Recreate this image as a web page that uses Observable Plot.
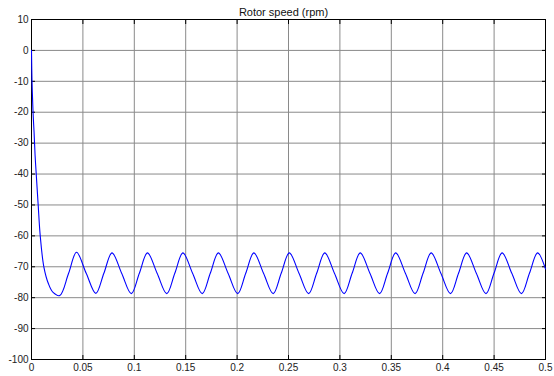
<!DOCTYPE html>
<html>
<head>
<meta charset="utf-8">
<script src="https://cdn.jsdelivr.net/npm/d3@7"></script>
<script src="https://cdn.jsdelivr.net/npm/@observablehq/plot@0.6"></script>
<style>
  html, body { margin: 0; padding: 0; background: #fff; }
  #chart svg { display: block; }
</style>
</head>
<body>
<div id="chart"></div>
<script>
const title = "Rotor speed (rpm)";
const xTicks = [0, 0.05, 0.1, 0.15, 0.2, 0.25, 0.3, 0.35, 0.4, 0.45, 0.5];
const yTicks = [10, 0, -10, -20, -30, -40, -50, -60, -70, -80, -90, -100];

// time (s)
const time = [
  0, 0.0005, 0.0015, 0.0025, 0.0035, 0.0046, 0.0065, 0.0085, 0.012, 0.0165, 0.021, 0.0275, 0.036,
  0.0438, 0.0532, 0.0626, 0.0704,
  0.0783, 0.0877, 0.0971, 0.1049,
  0.1128, 0.1222, 0.1316, 0.1394,
  0.1473, 0.1567, 0.1661, 0.1739,
  0.1818, 0.1912, 0.2006, 0.2084,
  0.2163, 0.2257, 0.2351, 0.2429,
  0.2508, 0.2602, 0.2696, 0.2774,
  0.2853, 0.2947, 0.3041, 0.3119,
  0.3198, 0.3292, 0.3386, 0.3464,
  0.3543, 0.3637, 0.3731, 0.3809,
  0.3888, 0.3982, 0.4076, 0.4154,
  0.4233, 0.4327, 0.4421, 0.4499,
  0.4578, 0.4672, 0.4766, 0.4844,
  0.4923, 0.5
];
// rotor speed (rpm)
const speed = [
  0, -10, -20, -26.5, -34, -40, -50, -60, -70, -75.5, -78.3, -79.3, -72.2,
  -65.3, -72.1, -78.6, -72.1,
  -65.5, -72.1, -78.7, -72.1,
  -65.5, -72.1, -78.7, -72.1,
  -65.5, -72.1, -78.7, -72.1,
  -65.5, -72.1, -78.7, -72.1,
  -65.5, -72.1, -78.7, -72.1,
  -65.5, -72.1, -78.7, -72.1,
  -65.5, -72.1, -78.7, -72.1,
  -65.5, -72.1, -78.7, -72.1,
  -65.5, -72.1, -78.7, -72.1,
  -65.5, -72.1, -78.7, -72.1,
  -65.5, -72.1, -78.7, -72.1,
  -65.5, -72.1, -78.7, -72.1,
  -65.5, -70.7
];

const data = time.map((t, i) => ({t, v: speed[i]}));
const fmt = d => String(d);

const chart = Plot.plot({
  width: 554,
  height: 376,
  marginLeft: 31,
  marginRight: 9,
  marginTop: 19,
  marginBottom: 17,
  style: {fontFamily: "Arial, 'Liberation Sans', sans-serif", fontSize: "10px", background: "#fff", color: "#222"},
  x: {domain: [0, 0.5], ticks: xTicks},
  y: {domain: [-100, 10], ticks: yTicks},
  marks: [
    Plot.gridX(xTicks, {stroke: "#8a8a8a", strokeOpacity: 1}),
    Plot.gridY(yTicks, {stroke: "#8a8a8a", strokeOpacity: 1}),
    Plot.axisX(xTicks, {tickSize: 0, tickPadding: 4, tickFormat: fmt, label: null, fill: "#222"}),
    Plot.axisY(yTicks, {tickSize: 0, tickPadding: 3, tickFormat: fmt, label: null, fill: "#222"}),
    Plot.axisX(xTicks, {anchor: "top", tickSize: -4, tickFormat: () => "", label: null, stroke: "#000"}),
    Plot.axisX(xTicks, {anchor: "bottom", tickSize: -4, tickFormat: () => "", label: null, stroke: "#000"}),
    Plot.axisY(yTicks, {anchor: "left", tickSize: -4, tickFormat: () => "", label: null, stroke: "#000"}),
    Plot.axisY(yTicks, {anchor: "right", tickSize: -4, tickFormat: () => "", label: null, stroke: "#000"}),
    Plot.frame({stroke: "#000"}),
    Plot.line(data, {x: "t", y: "v", stroke: "#0000ff", strokeWidth: 1.1, curve: "catmull-rom"}),
    Plot.text([title], {frameAnchor: "top", dx: -5, dy: -4, lineAnchor: "bottom", fontSize: 11, fill: "#111"})
  ]
});
document.getElementById("chart").appendChild(chart);
</script>
</body>
</html>
